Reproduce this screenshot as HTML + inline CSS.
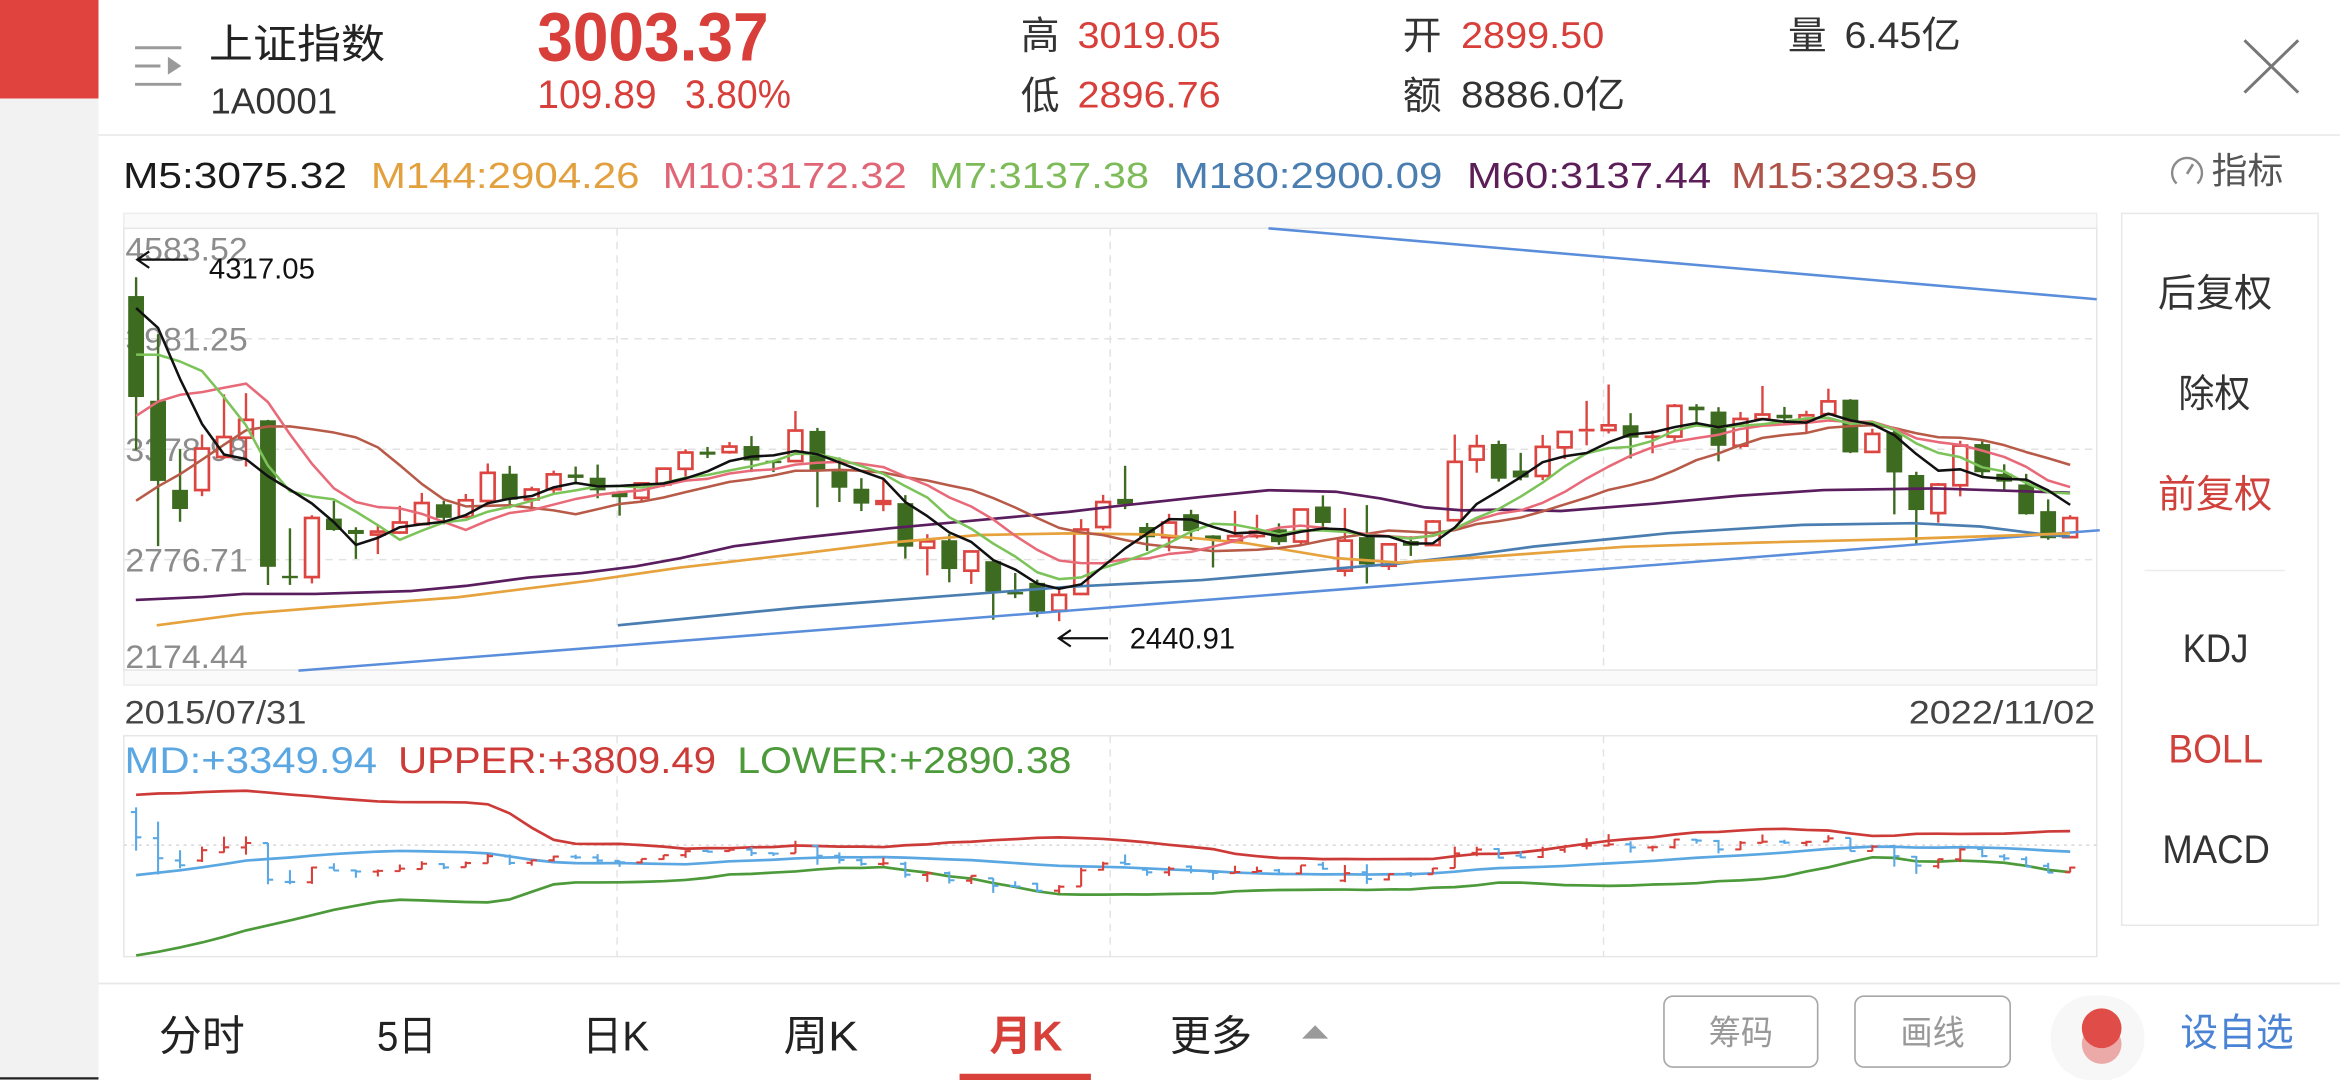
<!DOCTYPE html>
<html><head><meta charset="utf-8">
<style>
html,body{margin:0;padding:0;background:#fff;overflow:hidden;}
svg{display:block;}
text{font-family:"Liberation Sans","Noto Sans CJK SC",sans-serif;}
</style></head>
<body>
<svg id="s" xmlns="http://www.w3.org/2000/svg" width="2340" height="1080" viewBox="0 0 1568 723.69" preserveAspectRatio="none">
<defs><clipPath id="bc"><rect x="83" y="493" width="1322" height="148"/></clipPath></defs>
<rect x="0" y="0" width="1568" height="723.69" fill="#fff"/>
<!-- left strip -->
<rect x="0" y="0" width="66" height="723.69" fill="#f2f2f2"/>
<rect x="0" y="0" width="66" height="66" fill="#e0433e"/>
<line x1="0" y1="722.6" x2="66" y2="722.6" stroke="#222" stroke-width="1.5"/>

<!-- header -->
<path d="M90.5 32H121.5M90.5 44.2H107.5M90.5 56.5H121.5" stroke="#9a9a9a" stroke-width="2" fill="none"/>
<path d="M112.5 38L121.5 44.2L112.5 50Z" fill="#9a9a9a"/>
<text x="140" y="39" font-size="27" fill="#222" textLength="118" lengthAdjust="spacingAndGlyphs">上证指数</text>
<text x="141" y="76" font-size="24" fill="#333" textLength="85" lengthAdjust="spacingAndGlyphs">1A0001</text>
<text x="360" y="40.5" font-size="46" font-weight="bold" fill="#d83f3a" textLength="155" lengthAdjust="spacingAndGlyphs">3003.37</text>
<text x="360" y="72.5" font-size="27" fill="#d83f3a" textLength="80" lengthAdjust="spacingAndGlyphs">109.89</text>
<text x="459" y="72.5" font-size="27" fill="#d83f3a" textLength="71" lengthAdjust="spacingAndGlyphs">3.80%</text>
<text x="684" y="33" font-size="26" fill="#333">高</text>
<text x="722" y="32" font-size="25" fill="#d83f3a" textLength="96" lengthAdjust="spacingAndGlyphs">3019.05</text>
<text x="684" y="73" font-size="26" fill="#333">低</text>
<text x="722" y="72" font-size="25" fill="#d83f3a" textLength="96" lengthAdjust="spacingAndGlyphs">2896.76</text>
<text x="940" y="33" font-size="26" fill="#333">开</text>
<text x="979" y="32" font-size="25" fill="#d83f3a" textLength="96" lengthAdjust="spacingAndGlyphs">2899.50</text>
<text x="940" y="73" font-size="26" fill="#333">额</text>
<text x="979" y="72" font-size="25" fill="#333" textLength="110" lengthAdjust="spacingAndGlyphs">8886.0亿</text>
<text x="1198" y="33" font-size="26" fill="#333">量</text>
<text x="1236" y="32" font-size="25" fill="#333" textLength="78" lengthAdjust="spacingAndGlyphs">6.45亿</text>
<path d="M1504 27L1540 62M1540 27L1504 62" stroke="#777" stroke-width="2" fill="none"/>
<line x1="66" y1="90.5" x2="1568" y2="90.5" stroke="#ececec" stroke-width="1.2"/>

<!-- MA legend -->
<g font-size="24">
<text x="82.5" y="126" fill="#1a1a1a" textLength="150" lengthAdjust="spacingAndGlyphs">M5:3075.32</text>
<text x="248.5" y="126" fill="#e2a03e" textLength="180" lengthAdjust="spacingAndGlyphs">M144:2904.26</text>
<text x="444" y="126" fill="#e06676" textLength="163.6" lengthAdjust="spacingAndGlyphs">M10:3172.32</text>
<text x="622.6" y="126" fill="#7dbb58" textLength="147.4" lengthAdjust="spacingAndGlyphs">M7:3137.38</text>
<text x="786.5" y="126" fill="#4a7eb0" textLength="180" lengthAdjust="spacingAndGlyphs">M180:2900.09</text>
<text x="983" y="126" fill="#5c1e58" textLength="163.6" lengthAdjust="spacingAndGlyphs">M60:3137.44</text>
<text x="1160" y="126" fill="#b0544a" textLength="165" lengthAdjust="spacingAndGlyphs">M15:3293.59</text>
</g>
<path d="M1458.5 123 A10 10 0 1 1 1472.5 123" stroke="#8a8a8a" stroke-width="1.6" fill="none"/>
<line x1="1465.5" y1="116.5" x2="1469.5" y2="110" stroke="#8a8a8a" stroke-width="1.8"/>
<text x="1482" y="122.5" font-size="24" fill="#555" textLength="48" lengthAdjust="spacingAndGlyphs">指标</text>

<!-- main chart frame -->
<rect x="83" y="143" width="1322" height="316" fill="#fafafa" stroke="#ececec" stroke-width="1"/>
<rect x="83" y="153" width="1322" height="296" fill="#fff" stroke="#e6e6e6" stroke-width="1"/>
<g stroke="#e2e2e2" stroke-width="1" stroke-dasharray="5 4">
<line x1="83" y1="227" x2="1405" y2="227"/>
<line x1="83" y1="301" x2="1405" y2="301"/>
<line x1="83" y1="375" x2="1405" y2="375"/>
<line x1="413.5" y1="153" x2="413.5" y2="449"/>
<line x1="743.9" y1="153" x2="743.9" y2="449"/>
<line x1="1074.5" y1="153" x2="1074.5" y2="449"/>
</g>
<g font-size="22" fill="#8c8c8c">
<text x="84" y="174.5" textLength="82" lengthAdjust="spacingAndGlyphs">4583.52</text>
<text x="84" y="235" textLength="82" lengthAdjust="spacingAndGlyphs">3981.25</text>
<text x="84" y="309" textLength="82" lengthAdjust="spacingAndGlyphs">3378.98</text>
<text x="84" y="383" textLength="82" lengthAdjust="spacingAndGlyphs">2776.71</text>
<text x="84" y="447.5" textLength="82" lengthAdjust="spacingAndGlyphs">2174.44</text>
</g>
<g id="cd"></g>
<!-- trendlines -->
<line x1="200" y1="449.4" x2="1407" y2="355.3" stroke="#5a8edb" stroke-width="1.7"/>
<line x1="850" y1="153" x2="1405" y2="200.5" stroke="#5a8edb" stroke-width="1.7"/>
<!-- long MAs traced -->
<polyline fill="none" stroke="#4a7eb0" stroke-width="1.8" stroke-linejoin="round" points="414,419 536,407 626,400 716,393.2 805.5,388.7 895,381 938,377.5 985,372 1028,366.2 1118,357.3 1208,351.7 1282,350.6 1327,352.8 1372,358.4 1387,359.6"/>
<polyline fill="none" stroke="#e6a23c" stroke-width="1.8" stroke-linejoin="round" points="105,419 163,411.4 217,407 306,400.3 396,389 456,380.3 536,371 596,363.6 656,358.5 716,357.4 776,358.2 835,364 895,374 938,377 998,373 1088,366.4 1177,363.6 1267,361.4 1357,358.5 1387,357.4"/>
<polyline fill="none" stroke="#5a1d5e" stroke-width="1.8" stroke-linejoin="round" points="91,402 136,400 163,398 211,398 276,396 312,392.6 354,387 390,384 426,379.5 456,374 492,366 536,360.5 596,354 656,348.5 716,343 745,339.5 805,333 850,328.5 895,329.5 925,334 955,340 980,342 1005,341.5 1046,342.4 1106,337.7 1165,332.2 1222,328.4 1297,327.3 1387,330.2"/>
<g id="ma"></g>
<!-- annotations -->
<path d="M126 174H92M100 168.5L92 174L100 179.5" stroke="#111" stroke-width="1.5" fill="none"/>
<text x="140" y="186.5" font-size="19" fill="#111" textLength="71" lengthAdjust="spacingAndGlyphs">4317.05</text>
<path d="M742.5 427.7H709.5M717.5 422.2L709.5 427.7L717.5 433.2" stroke="#111" stroke-width="1.5" fill="none"/>
<text x="757" y="434.5" font-size="20" fill="#111" textLength="70.6" lengthAdjust="spacingAndGlyphs">2440.91</text>

<!-- dates -->
<text x="83.4" y="484.7" font-size="22" fill="#444" textLength="122" lengthAdjust="spacingAndGlyphs">2015/07/31</text>
<text x="1279" y="484.7" font-size="22" fill="#444" textLength="125" lengthAdjust="spacingAndGlyphs">2022/11/02</text>

<!-- BOLL panel -->
<rect x="83" y="493" width="1322" height="148" fill="#fff" stroke="#e6e6e6" stroke-width="1"/>
<line x1="83" y1="566.3" x2="1405" y2="566.3" stroke="#d8d8d8" stroke-width="1" stroke-dasharray="2 3"/>
<g stroke="#e4e4e4" stroke-width="1" stroke-dasharray="5 4">
<line x1="413.5" y1="493" x2="413.5" y2="641"/>
<line x1="743.9" y1="493" x2="743.9" y2="641"/>
<line x1="1074.5" y1="493" x2="1074.5" y2="641"/>
</g>
<text x="83.4" y="518" font-size="25" fill="#5ba7e2" textLength="169.3" lengthAdjust="spacingAndGlyphs">MD:+3349.94</text>
<text x="266.8" y="518" font-size="25" fill="#cc3b38" textLength="213" lengthAdjust="spacingAndGlyphs">UPPER:+3809.49</text>
<text x="494" y="518" font-size="25" fill="#4c9a3a" textLength="224" lengthAdjust="spacingAndGlyphs">LOWER:+2890.38</text>
<g id="bl" clip-path="url(#bc)"></g>

<!-- sidebar -->
<rect x="1421.7" y="143" width="131.6" height="477" fill="#fff" stroke="#e8e8e8" stroke-width="1"/>
<g font-size="26" fill="#333">
<text x="1446" y="205.3" textLength="76.6" lengthAdjust="spacingAndGlyphs">后复权</text>
<text x="1459.7" y="272.6" textLength="48.3" lengthAdjust="spacingAndGlyphs">除权</text>
<text x="1446" y="340" fill="#d0413c" textLength="76.6" lengthAdjust="spacingAndGlyphs">前复权</text>
<text x="1462.6" y="443.6" font-size="27" textLength="44" lengthAdjust="spacingAndGlyphs">KDJ</text>
<text x="1453" y="511" font-size="27" fill="#d0413c" textLength="63.5" lengthAdjust="spacingAndGlyphs">BOLL</text>
<text x="1449" y="578.3" font-size="27" textLength="72" lengthAdjust="spacingAndGlyphs">MACD</text>
</g>
<line x1="1437" y1="382.3" x2="1531" y2="382.3" stroke="#ececec" stroke-width="1"/>

<!-- bottom bar -->
<line x1="66" y1="659" x2="1568" y2="659" stroke="#e8e8e8" stroke-width="1.2"/>
<g font-size="28" fill="#222">
<text x="106.5" y="704" textLength="57.5" lengthAdjust="spacingAndGlyphs">分时</text>
<text x="252.6" y="704" textLength="40" lengthAdjust="spacingAndGlyphs">5日</text>
<text x="390" y="704" textLength="45" lengthAdjust="spacingAndGlyphs">日K</text>
<text x="525" y="704" textLength="50" lengthAdjust="spacingAndGlyphs">周K</text>
<text x="663" y="704" fill="#d8403a" font-weight="bold" textLength="49" lengthAdjust="spacingAndGlyphs">月K</text>
<text x="784" y="704" textLength="55" lengthAdjust="spacingAndGlyphs">更多</text>
</g>
<rect x="643" y="719.5" width="88" height="4.5" fill="#d8403a"/>
<path d="M872.5 696L890 696L881.25 687Z" fill="#9a9a9a"/>
<rect x="1115" y="667.5" width="103" height="47.5" rx="6" fill="#fff" stroke="#a8a8a8" stroke-width="1.1"/>
<rect x="1243" y="667.5" width="104" height="47.5" rx="6" fill="#fff" stroke="#a8a8a8" stroke-width="1.1"/>
<text x="1145" y="700" font-size="23" fill="#999" textLength="43" lengthAdjust="spacingAndGlyphs">筹码</text>
<text x="1273.5" y="700" font-size="23" fill="#999" textLength="43" lengthAdjust="spacingAndGlyphs">画线</text>
<rect x="1374" y="667" width="63" height="57" rx="28" fill="#f7f7f7"/>
<circle cx="1408.3" cy="699.6" r="13.3" fill="#eba9a7"/>
<circle cx="1408.3" cy="689" r="13.3" fill="#e04c47"/>
<text x="1461" y="701" font-size="26" fill="#4a82d4" textLength="76" lengthAdjust="spacingAndGlyphs">设自选</text>
</svg>
<script>
(function(){
var D=[
[4214.14,4317.05,3373.54,3663.73],[3643.10,4006.34,2850.71,3205.99],[3157.34,3379.19,2983.54,3052.78],[3156.08,3459.13,3122.97,3382.56],[3337.03,3678.27,3327.29,3445.40],[3441.58,3684.57,3284.74,3539.18],
[3536.59,3538.69,2638.30,2737.60],[2688.39,2947.66,2638.96,2687.98],[2681.56,3018.80,2647.10,3003.92],[3000.64,3097.09,2934.03,2938.32],[2938.59,2953.33,2780.78,2916.62],[2913.51,2961.05,2807.00,2929.61],
[2924.41,3070.30,2917.00,2979.34],[2970.40,3140.56,2962.28,3085.49],[3078.53,3097.03,2969.24,3004.70],[3009.75,3134.93,3008.98,3100.49],[3096.39,3301.21,3093.07,3250.03],[3245.26,3288.21,3056.88,3103.64],
[3105.31,3174.64,3044.23,3159.17],[3160.44,3262.35,3134.53,3241.73],[3241.12,3284.30,3186.79,3222.51],[3223.49,3295.19,3111.33,3154.66],[3146.85,3152.17,3016.53,3117.18],[3113.69,3193.02,3092.06,3192.43],
[3186.80,3277.04,3172.17,3273.03],[3271.93,3378.49,3213.64,3360.81],[3365.88,3391.20,3330.62,3348.94],[3362.90,3418.22,3354.34,3393.34],[3396.20,3450.49,3254.04,3317.19],[3316.10,3320.00,3254.18,3307.17],
[3314.03,3587.03,3314.03,3480.83],[3478.67,3495.09,3062.74,3259.41],[3259.23,3333.88,3091.10,3168.90],[3163.43,3220.85,3041.61,3082.23],[3081.11,3219.74,3041.00,3095.47],[3084.75,3128.57,2782.38,2847.42],
[2841.58,2915.30,2691.02,2876.40],[2882.51,2915.70,2653.11,2725.25],[2716.51,2827.34,2644.30,2821.35],[2768.21,2771.94,2449.20,2602.78],[2600.10,2703.51,2566.85,2588.19],[2650.13,2667.48,2462.84,2493.90],
[2497.88,2618.97,2440.91,2584.57],[2589.32,2997.37,2587.56,2940.95],[2954.40,3129.94,2937.12,3090.76],[3107.96,3288.45,3052.15,3078.34],[2954.69,2976.52,2824.35,2898.70],[2899.36,3026.40,2822.13,2978.88],
[3024.53,3048.48,2878.06,2932.51],[2908.54,2910.00,2733.92,2886.24],[2881.14,3042.93,2874.45,2905.19],[2905.24,3021.68,2892.20,2929.06],[2942.16,2974.44,2857.32,2871.98],[2875.43,3050.12,2857.73,3050.12],
[3066.34,3127.17,2955.34,2976.53],[2716.70,3058.52,2685.27,2880.30],[2899.31,3074.26,2646.80,2750.30],[2743.54,2862.58,2720.44,2860.08],[2878.14,2904.48,2797.06,2852.35],[2856.31,2991.93,2856.31,2984.67],
[2991.58,3458.79,2990.86,3310.01],[3322.25,3457.73,3250.62,3395.68],[3407.35,3425.63,3202.34,3218.05],[3262.61,3359.15,3208.86,3224.53],[3233.09,3456.72,3209.91,3391.76],[3388.99,3474.92,3325.17,3473.07],
[3474.68,3642.44,3400.20,3483.07],[3483.60,3731.69,3465.23,3509.08],[3509.55,3575.49,3328.51,3441.91],[3442.61,3481.99,3356.56,3446.86],[3447.72,3625.41,3416.48,3615.48],[3611.17,3624.71,3526.39,3591.20],
[3584.17,3608.13,3312.72,3397.36],[3398.00,3582.25,3382.64,3543.94],[3542.85,3723.85,3542.29,3568.17],[3566.81,3609.57,3515.84,3547.34],[3540.51,3588.73,3468.08,3563.89],[3569.87,3708.94,3569.00,3639.78],
[3649.15,3651.89,3357.68,3361.44],[3364.27,3490.61,3357.72,3462.31],[3472.19,3497.18,3023.30,3252.20],[3238.32,3256.29,2863.65,3047.06],[3030.58,3194.76,2978.48,3186.43],[3182.45,3424.84,3121.64,3398.62],
[3407.01,3422.52,3227.38,3253.24],[3244.68,3296.54,3155.13,3202.14],[3186.67,3244.48,3021.93,3024.39],[3041.13,3105.05,2885.09,2893.48],[2899.50,3019.05,2896.76,3003.37]];
var pre=[2115.98,2033.08,2056.30,2033.31,2026.36,2039.21,2048.33,2201.56,2217.20,2363.87,2420.18,2682.84,3234.68,3210.36,3310.30,3747.90,4441.66,4611.74,4277.22];
var C=pre.concat(D.map(function(d){return d[3];}));
var P=pre.length,N=D.length;
function X(i){return 91.2+i*14.727;}
function Y(p){return 153+(4583.52-p)*0.122869;}
function BY(p){return 673.45-p*0.03068;}
function f(v){return v.toFixed(2);}
var R='#dc4540',G='#3d6b20',s='';
for(var i=0;i<N;i++){
 var o=D[i][0],h=D[i][1],l=D[i][2],c=D[i][3],x=X(i);
 var yt=Y(Math.max(o,c)),yb=Y(Math.min(o,c)),yh=Y(h),yl=Y(l);
 if(c>=o){
  s+='<line x1="'+f(x)+'" y1="'+f(yh)+'" x2="'+f(x)+'" y2="'+f(yt)+'" stroke="'+R+'" stroke-width="1.6"/>';
  s+='<line x1="'+f(x)+'" y1="'+f(yb)+'" x2="'+f(x)+'" y2="'+f(yl)+'" stroke="'+R+'" stroke-width="1.6"/>';
  var hh=yb-yt;
  if(hh<1.6) s+='<line x1="'+f(x-5.3)+'" y1="'+f(yt)+'" x2="'+f(x+5.3)+'" y2="'+f(yt)+'" stroke="'+R+'" stroke-width="1.8"/>';
  else s+='<rect x="'+f(x-4.6)+'" y="'+f(yt)+'" width="9.2" height="'+f(hh)+'" fill="#fff" stroke="'+R+'" stroke-width="1.8"/>';
 } else {
  s+='<line x1="'+f(x)+'" y1="'+f(yh)+'" x2="'+f(x)+'" y2="'+f(yl)+'" stroke="'+G+'" stroke-width="1.6"/>';
  s+='<rect x="'+f(x-5.3)+'" y="'+f(yt)+'" width="10.6" height="'+f(Math.max(yb-yt,1.6))+'" fill="'+G+'"/>';
 }
}
var NS='http://www.w3.org/2000/svg';
function put(id,str){var g=document.getElementById(id);var tmp=new DOMParser().parseFromString('<svg xmlns="'+NS+'">'+str+'</svg>','image/svg+xml');var ch=tmp.documentElement.childNodes;while(ch.length){g.appendChild(document.importNode(ch[0],true));ch[0].parentNode.removeChild(ch[0]);}}
put('cd',s);
function ma(n,i){var t=0;for(var k=0;k<n;k++)t+=C[P+i-k];return t/n;}
function ln(n,col){var pts=[];for(var i=0;i<N;i++)pts.push(f(X(i))+','+f(Y(ma(n,i))));return '<polyline points="'+pts.join(' ')+'" fill="none" stroke="'+col+'" stroke-width="1.7" stroke-linejoin="round"/>';}
var m=ln(15,'#b85a48')+ln(10,'#e86a78')+ln(7,'#7cc35a')+ln(5,'#111');
put('ma',m);
var md=[],up=[],dn=[];
for(var i=0;i<N;i++){var a=ma(20,i),v=0;for(var k=0;k<20;k++){var d=C[P+i-k]-a;v+=d*d;}var sd=Math.sqrt(v/20);
 md.push(f(X(i))+','+f(BY(a)));up.push(f(X(i))+','+f(BY(a+2*sd)));dn.push(f(X(i))+','+f(BY(a-2*sd)));}
var b='<polyline points="'+up.join(' ')+'" fill="none" stroke="#cc3b38" stroke-width="1.8"/>'+
'<polyline points="'+dn.join(' ')+'" fill="none" stroke="#4c9a3a" stroke-width="1.8"/>'+
'<polyline points="'+md.join(' ')+'" fill="none" stroke="#5ba7e2" stroke-width="1.8"/>';
for(var i=0;i<N;i++){var o=D[i][0],h=D[i][1],l=D[i][2],c=D[i][3],x=X(i);var col=c>=o?'#d8403a':'#5aa8e4';
 b+='<path d="M'+f(x)+' '+f(BY(h))+'V'+f(BY(l))+'M'+f(x-3.5)+' '+f(BY(o))+'H'+f(x)+'M'+f(x)+' '+f(BY(c))+'H'+f(x+3.5)+'" stroke="'+col+'" stroke-width="1.4" fill="none"/>';}
put('bl',b);
})();
</script>
</body></html>
